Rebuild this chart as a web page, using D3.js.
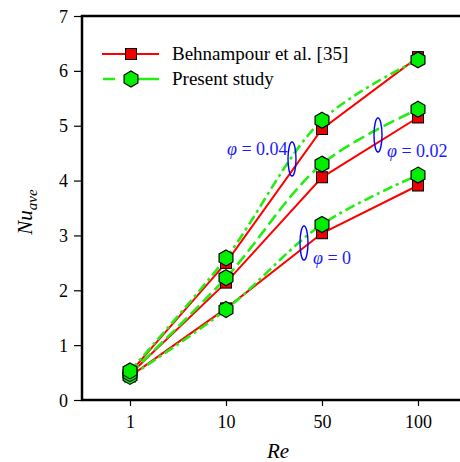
<!DOCTYPE html>
<html>
<head>
<meta charset="utf-8">
<script src="https://cdn.jsdelivr.net/npm/d3@7"></script>
<style>
  body { margin: 0; background: #fff; }
  svg text { font-family: "Liberation Serif", "Times New Roman", serif; }
</style>
</head>
<body>
<div id="viz"></div>
<script>
// Reynolds numbers (categorical axis)
var reLabels = ["1", "10", "50", "100"]
var yTicks = [0, 1, 2, 3, 4, 5, 6, 7]

// Behnampour et al. [35]
var refPhi0 = [0.43, 1.67, 3.04, 3.91]
var refPhi002 = [0.47, 2.14, 4.06, 5.15]
var refPhi004 = [0.50, 2.50, 4.94, 6.25]

// present study
var nowPhi0 = [0.43, 1.65, 3.20, 4.10]
var nowPhi002 = [0.48, 2.23, 4.30, 5.30]
var nowPhi004 = [0.53, 2.59, 5.10, 6.20]

var legendLabels = ["Behnampour et al. [35]", "Present study"]

var width = 460, height = 462
var margin = { top: 16, left: 82, bottom: 400 }
var serif = "Liberation Serif"

var svg = d3.select("#viz").append("svg")
  .attr("width", width)
  .attr("height", height)

var x = d3.scalePoint().domain(reLabels).range([margin.left, margin.left + 384]).padding(0.5)
var y = d3.scaleLinear().domain([0, 7]).range([margin.bottom, margin.top])

// frame (right side falls outside the window)
svg.append("rect")
  .attr("x", margin.left).attr("y", margin.top)
  .attr("width", 384).attr("height", margin.bottom - margin.top)
  .attr("fill", "none").attr("stroke", "#000").attr("stroke-width", 2.5)

// axes
var yAxis = svg.append("g")
  .attr("transform", "translate(" + margin.left + ",0)")
  .call(d3.axisLeft(y).tickValues(yTicks).tickFormat(d3.format("d")).tickSize(8).tickPadding(6))
var xAxis = svg.append("g")
  .attr("transform", "translate(0," + margin.bottom + ")")
  .call(d3.axisBottom(x).tickSize(6).tickPadding(8))

;[xAxis, yAxis].forEach(g => {
  g.attr("font-family", serif)
  g.select(".domain").remove()
  g.selectAll("line").attr("stroke", "#000").attr("stroke-width", 1.2)
  g.selectAll("text").attr("fill", "#000").style("font-size", "18px")
    .style("font-family", serif)
})
yAxis.selectAll("text").attr("dy", "0.34em")
xAxis.selectAll("text").attr("dy", "0.8em")

// axis titles
svg.append("text")
  .attr("x", 278).attr("y", 458)
  .attr("text-anchor", "middle")
  .style("font-family", serif)
  .style("font-size", "21px").style("font-style", "italic")
  .text("Re")

var yTitle = svg.append("text")
  .attr("transform", "translate(32,212) rotate(-90)")
  .attr("text-anchor", "middle")
  .style("font-family", serif)
  .style("font-size", "21px").style("font-style", "italic")
yTitle.append("tspan").text("Nu")
yTitle.append("tspan").attr("dy", 5).style("font-size", "15px").text("ave")

var refLine = d3.line().x((d, i) => x(reLabels[i])).y(d => y(d))
var nowLine = d3.line().x((d, i) => x(reLabels[i])).y(d => y(d)).curve(d3.curveCatmullRom)

var refSeries = [refPhi0, refPhi002, refPhi004]
var nowSeries = [nowPhi0, nowPhi002, nowPhi004]
var nowDash = ["10,4,3,4", "12,5", "10,4,3,4"]

var hexagon = d3.symbol().type({
  draw: function (ctx, size) {
    var r = Math.sqrt(size)
    for (var k = 0; k < 6; k++) {
      var a = Math.PI / 3 * k - Math.PI / 2
      if (k == 0) ctx.moveTo(r * Math.cos(a), r * Math.sin(a))
      else ctx.lineTo(r * Math.cos(a), r * Math.sin(a))
    }
    ctx.closePath()
  }
}).size(64)

refSeries.forEach(s => {
  svg.append("path").attr("d", refLine(s))
    .attr("fill", "none").attr("stroke", "#ff0000").attr("stroke-width", 2)
})
nowSeries.forEach((s, k) => {
  svg.append("path").attr("d", nowLine(s))
    .attr("fill", "none").attr("stroke", "#22ee11").attr("stroke-width", 2.6)
    .attr("stroke-dasharray", nowDash[k])
})

refSeries.forEach(s => {
  svg.selectAll(null).data(s).enter().append("rect")
    .attr("x", (d, i) => x(reLabels[i]) - 5.5)
    .attr("y", d => y(d) - 5.5)
    .attr("width", 11).attr("height", 11)
    .attr("fill", "#ee0000").attr("stroke", "#000").attr("stroke-width", 1)
})
nowSeries.forEach(s => {
  svg.selectAll(null).data(s).enter().append("path")
    .attr("d", hexagon)
    .attr("transform", (d, i) => "translate(" + x(reLabels[i]) + "," + y(d) + ")")
    .attr("fill", "#00ee00").attr("stroke", "#000").attr("stroke-width", 1.2)
})

// legend
var lg = svg.append("g")
lg.append("line").attr("x1", 102).attr("x2", 159).attr("y1", 54).attr("y2", 54)
  .attr("stroke", "#ff0000").attr("stroke-width", 2)
lg.append("rect").attr("x", 125.5).attr("y", 48.5).attr("width", 11).attr("height", 11)
  .attr("fill", "#ee0000").attr("stroke", "#000").attr("stroke-width", 1)
lg.append("line").attr("x1", 103).attr("x2", 159).attr("y1", 79).attr("y2", 79)
  .attr("stroke", "#22ee11").attr("stroke-width", 2.6).attr("stroke-dasharray", "12,16,40")
lg.append("path").attr("d", hexagon).attr("transform", "translate(131,79)")
  .attr("fill", "#00ee00").attr("stroke", "#000").attr("stroke-width", 1.2)
lg.selectAll("text.lbl").data(legendLabels).enter().append("text")
  .attr("x", 172).attr("y", (d, i) => 60 + i * 25)
  .style("font-family", serif)
  .style("font-size", "19px").text(d => d)

// phi annotations
var notes = [
  { label: "0.04", cx: 292, cy: 159, tx: 227, ty: 155 },
  { label: "0.02", cx: 378, cy: 135, tx: 387, ty: 157 },
  { label: "0", cx: 304, cy: 243, tx: 313, ty: 264 }
]
notes.forEach(n => {
  svg.append("ellipse").attr("cx", n.cx).attr("cy", n.cy).attr("rx", 4).attr("ry", 17)
    .attr("fill", "none").attr("stroke", "#0000ff").attr("stroke-width", 1.4)
  var t = svg.append("text").attr("x", n.tx).attr("y", n.ty)
    .style("font-family", serif)
    .attr("fill", "#1a1aff").style("font-size", "18px")
  t.append("tspan").style("font-style", "italic").text("\u03c6")
  t.append("tspan").text(" = " + n.label)
})
</script>
</body>
</html>
